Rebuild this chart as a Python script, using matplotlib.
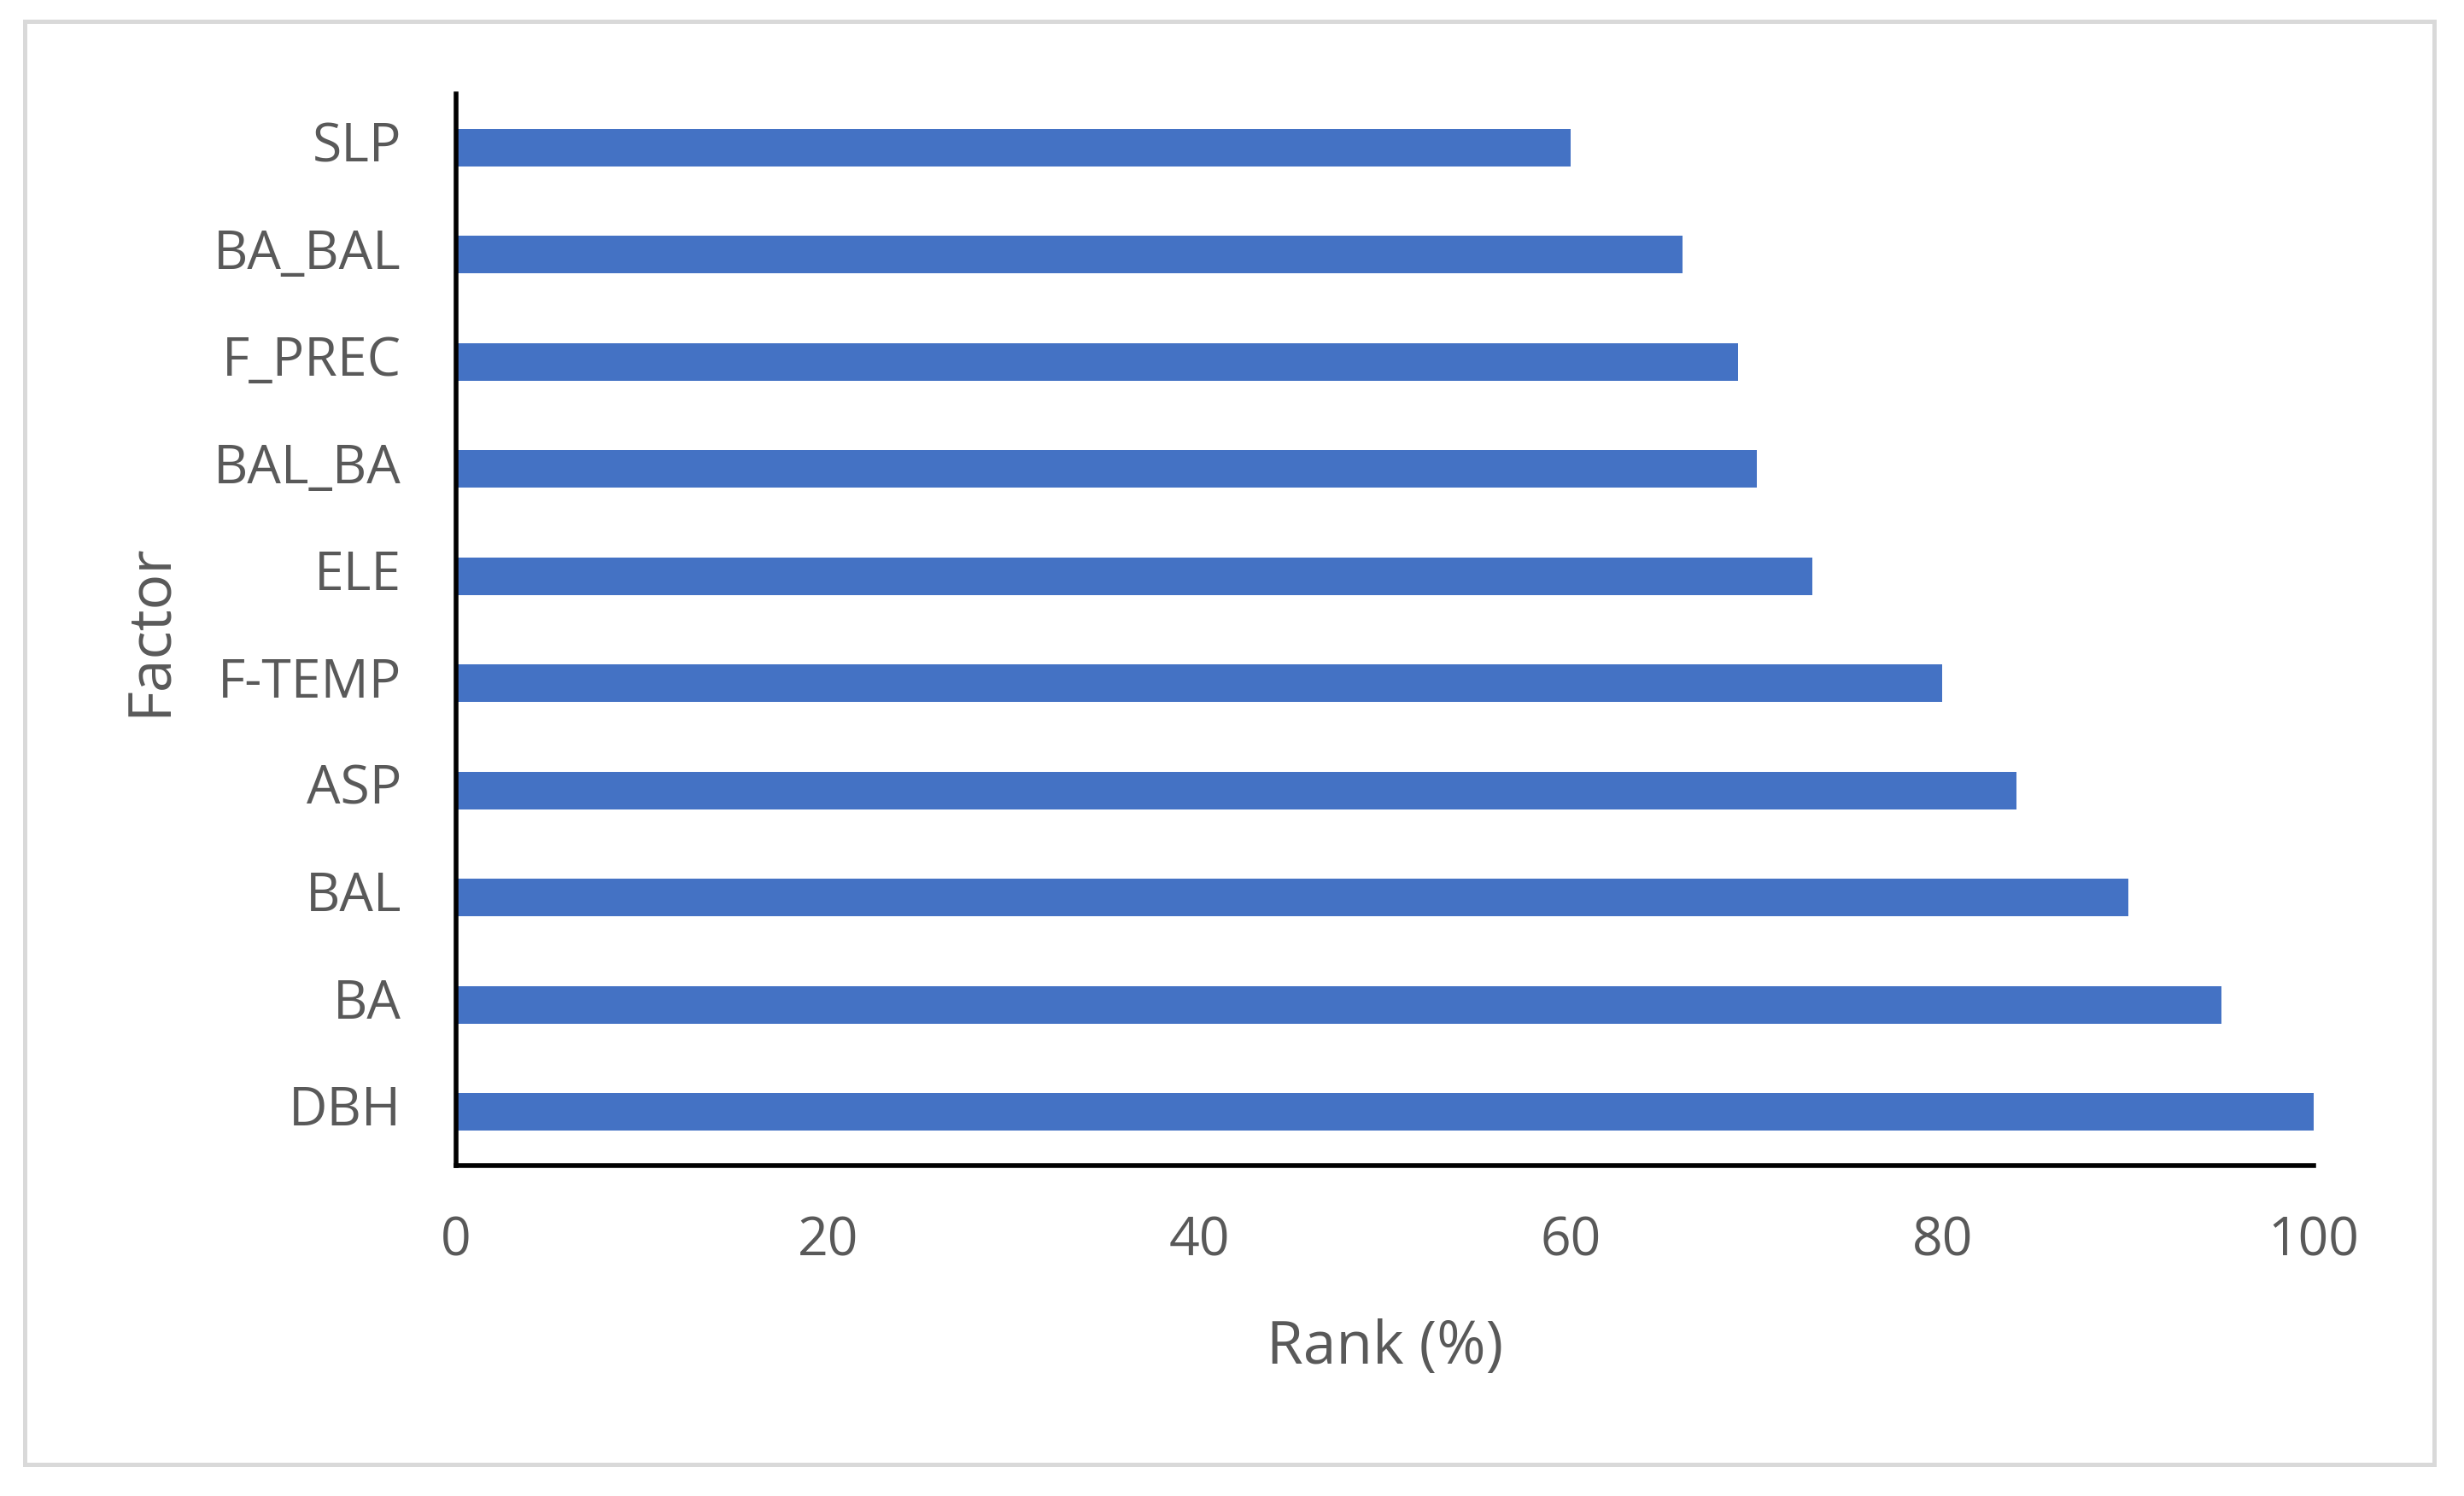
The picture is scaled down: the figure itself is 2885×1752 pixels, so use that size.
'''Horizontal bar chart of factor rank'''
import matplotlib.pyplot as plt
from matplotlib.patches import Rectangle

plt.rcParams['font.family'] = ['Open Sans', 'DejaVu Sans']

factors = ['DBH', 'BA', 'BAL', 'ASP', 'F-TEMP', 'ELE', 'BAL_BA', 'F_PREC', 'BA_BAL', 'SLP']
rank = [100, 95, 90, 84, 80, 73, 70, 69, 66, 60]
xticks = [0, 20, 40, 60, 80, 100]

GREY = '#595959'
BLUE = '#4472C4'

fig = plt.figure(figsize=(28.85, 17.52), dpi=100)
# light grey outer frame like the excel chart area
fig.patches.append(Rectangle((0.010, 0.021), 0.978, 0.965, transform=fig.transFigure,
                             fill=False, edgecolor='#D9D9D9', linewidth=3.6))

ax = fig.add_axes([0.1851, 0.2209, 0.7540, 0.7163])
ax.barh(range(len(factors)), rank, height=0.35, color=BLUE)

ax.set_xlim(0, 100)
ax.set_ylim(-0.5, len(factors) - 0.5)
ax.set_xticks(xticks)
ax.set_yticks(range(len(factors)))
ax.set_yticklabels(factors)

for s in ['top', 'right']:
    ax.spines[s].set_visible(False)
for s in ['left', 'bottom']:
    ax.spines[s].set_linewidth(4)
    ax.spines[s].set_color('black')

ax.tick_params(axis='both', length=0, labelsize=45, labelcolor=GREY)
ax.tick_params(axis='y', pad=46)
ax.tick_params(axis='x', pad=42)
# nudge y labels up a bit, excel places them slightly above bar centre
for lab in ax.get_yticklabels():
    lab.set_verticalalignment('center')

ax.set_xlabel('Rank (%)', fontsize=50, color=GREY, labelpad=42)
ax.set_ylabel('Factor', fontsize=50, color=GREY, labelpad=28)

fig.savefig('out.png', dpi=100)
